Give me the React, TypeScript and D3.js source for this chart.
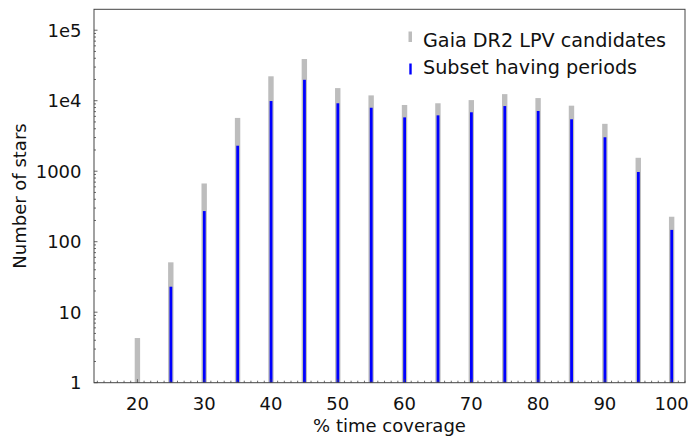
import React from "react";
import * as d3 from "d3";

const coverage = [20, 25, 30, 35, 40, 45, 50, 55, 60, 65, 70, 75, 80, 85, 90, 95, 100];
const allCandidates = [4.3, 51, 670, 5700, 22200, 39000, 15100, 11900, 8700, 9200, 10200, 12400, 10900, 8500, 4700, 1550, 226];
const withPeriods = [1, 23, 272, 2300, 9900, 19800, 9200, 7950, 5800, 6200, 6850, 8400, 7150, 5450, 3030, 975, 147];
const xTicks = [20, 30, 40, 50, 60, 70, 80, 90, 100];
const yTicks = [1, 10, 100, 1000, 10000, 100000];
const yTickLabels = ["1", "10", "100", "1000", "1e4", "1e5"];
const legendLabels = ["Gaia DR2 LPV candidates", "Subset having periods"];

const W = 691, H = 441;
const m = { left: 94, right: 685, top: 9.3, bottom: 382.7 };
const FONT = "'DejaVu Sans', sans-serif";
const FS = 18;
const LFS = 19.2;

export default function App() {
  const x = d3.scaleLinear().domain([13.5, 102]).range([m.left, m.right]);
  const y = d3.scaleLog().domain([1, 1.98e5]).range([m.bottom, m.top]);
  const minorX = d3.range(14, 103, 1).filter((v) => v % 10 !== 0);
  const minorY: number[] = [];
  for (let e = 0; e <= 5; e++) for (let k = 2; k <= 9; k++) {
    const v = k * Math.pow(10, e);
    if (v < 1.98e5) minorY.push(v);
  }
  const axisColor = "#444";
  return (
    <svg width={W} height={H} style={{ position: "absolute", left: 0, top: 0, background: "#fff" }}>
      {coverage.map((c, i) => (
        <rect key={"g" + i} x={x(c) - 2.7} width={5.4} y={y(allCandidates[i])} height={m.bottom - y(allCandidates[i])} fill="#bdbdbd" />
      ))}
      {coverage.map((c, i) => (
        <rect key={"b" + i} x={x(c) - 1.3} width={2.8} y={y(withPeriods[i])} height={Math.max(0, m.bottom - y(withPeriods[i]))} fill="#0000ff" />
      ))}
      <rect x={m.left} y={m.top} width={m.right - m.left} height={m.bottom - m.top} fill="none" stroke={axisColor} strokeWidth={1} />
      {minorX.map((v) => (
        <line key={"mx" + v} x1={x(v)} x2={x(v)} y1={m.bottom} y2={m.bottom - 2} stroke={axisColor} strokeWidth={0.8} />
      ))}
      {xTicks.map((v) => (
        <g key={"x" + v}>
          <line x1={x(v)} x2={x(v)} y1={m.bottom} y2={m.bottom - 3.5} stroke={axisColor} strokeWidth={0.8} />
          <text x={x(v)} y={410} textAnchor="middle" fontFamily={FONT} fontSize={FS} fill="#111">{v}</text>
        </g>
      ))}
      {minorY.map((v) => (
        <line key={"my" + v} x1={m.left} x2={m.left + 2} y1={y(v)} y2={y(v)} stroke={axisColor} strokeWidth={0.8} />
      ))}
      {yTicks.map((v, i) => (
        <g key={"y" + v}>
          <line x1={m.left} x2={m.left + 3.5} y1={y(v)} y2={y(v)} stroke={axisColor} strokeWidth={0.8} />
          <text x={81.5} y={y(v)} dy="0.36em" textAnchor="end" fontFamily={FONT} fontSize={FS} fill="#111">{yTickLabels[i]}</text>
        </g>
      ))}
      <text x={(m.left + m.right) / 2} y={432} textAnchor="middle" fontFamily={FONT} fontSize={FS} fill="#111">% time coverage</text>
      <text transform={`translate(26,${(m.top + m.bottom) / 2}) rotate(-90)`} textAnchor="middle" fontFamily={FONT} fontSize={FS} fill="#111">Number of stars</text>
      <rect x={408.5} y={31.5} width={3.5} height={10.5} fill="#bdbdbd" />
      <rect x={409.3} y={63.5} width={2.4} height={11} fill="#0000ff" />
      <text x={423} y={47} fontFamily={FONT} fontSize={LFS} fill="#111">{legendLabels[0]}</text>
      <text x={423} y={74} fontFamily={FONT} fontSize={LFS} fill="#111">{legendLabels[1]}</text>
    </svg>
  );
}
